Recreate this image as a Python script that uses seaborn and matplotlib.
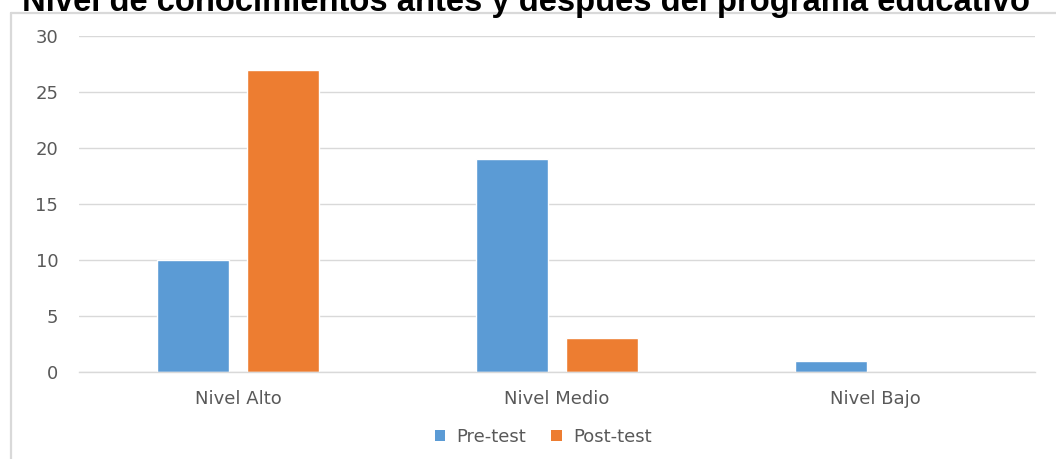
import matplotlib
matplotlib.use("Agg")
import matplotlib.pyplot as plt
from matplotlib.lines import Line2D
from matplotlib.patches import Patch
import seaborn as sns
import pandas as pd

categories = ["Nivel Alto", "Nivel Medio", "Nivel Bajo"]
pre_test = [10, 19, 1]
post_test = [27, 3, 0]
series_names = ["Pre-test", "Post-test"]
y_ticks = [0, 5, 10, 15, 20, 25, 30]
title = "Nivel de conocimientos antes y después del programa educativo"

colors = ["#5B9BD5", "#ED7D31"]
grid_color = "#D9D9D9"
text_color = "#595959"

df = pd.DataFrame({
    "Nivel": categories * 2,
    "Prueba": [series_names[0]] * len(categories) + [series_names[1]] * len(categories),
    "Valor": pre_test + post_test,
})

sns.set_theme(style="white")
plt.rcParams["font.family"] = ["DejaVu Sans"]

W, H = 1056, 459
fig = plt.figure(figsize=(W / 100, H / 100), dpi=100)
ax = fig.add_axes([79 / W, (H - 372) / H, (1035 - 79) / W, (372 - 36) / H])

sns.barplot(data=df, x="Nivel", y="Valor", hue="Prueba", order=categories,
            hue_order=series_names, palette=colors, width=0.566, gap=0.2,
            saturation=1, ax=ax, legend=False)

ax.set_xlim(-0.5, 2.5)
ax.set_ylim(0, 30)
ax.set_yticks(y_ticks)
ax.set_yticklabels([str(t) for t in y_ticks])
ax.set_xlabel("")
ax.set_ylabel("")
ax.yaxis.grid(True, color=grid_color, linewidth=1.0)
ax.set_axisbelow(True)
for side in ["top", "right", "left"]:
    ax.spines[side].set_visible(False)
ax.spines["bottom"].set_color(grid_color)
ax.spines["bottom"].set_linewidth(1.0)
ax.tick_params(axis="both", length=0, colors=text_color, labelsize=13)
ax.tick_params(axis="y", pad=15)
ax.tick_params(axis="x", pad=13)

handles = [Patch(facecolor=c, edgecolor="none") for c in colors]
fig.legend(handles, series_names, loc="center", bbox_to_anchor=(543 / W, (H - 437) / H),
           ncol=2, frameon=False, fontsize=13, labelcolor=text_color,
           handlelength=0.6, handleheight=0.6, handletextpad=0.6, columnspacing=1.4)

# Chart frame (top and left edges)
fig.add_artist(Line2D([11 / W, 11 / W], [0, (H - 13) / H], color=grid_color,
                      linewidth=1.6, transform=fig.transFigure))
fig.add_artist(Line2D([11 / W, 1], [(H - 13) / H, (H - 13) / H], color=grid_color,
                      linewidth=1.6, transform=fig.transFigure))

fig.text(526 / W, (H - 11) / H, title, ha="center", va="baseline",
         fontsize=23.6, fontweight="bold", family=["Liberation Sans", "DejaVu Sans"],
         color="black")

fig.savefig("out.png", dpi=100)
